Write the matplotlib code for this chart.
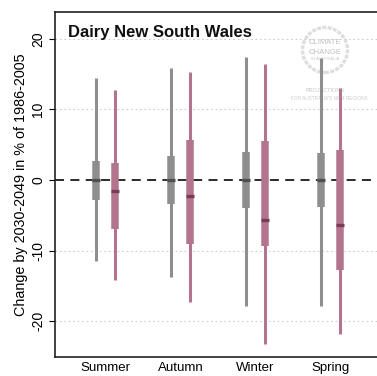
import numpy as np
import matplotlib
matplotlib.use("Agg")
import matplotlib.pyplot as plt
from matplotlib.patches import Circle

plt.rcParams['font.family'] = ['Liberation Sans', 'DejaVu Sans']

seasons = ["Summer", "Autumn", "Winter", "Spring"]

# grey series (first of each pair): whisker low, box low, median, box high, whisker high
gray_lo = [-11.5, -13.7, -17.9, -17.8]
gray_q1 = [-2.8, -3.4, -3.9, -3.8]
gray_med = [0.0, 0.0, 0.0, 0.0]
gray_q3 = [2.7, 3.4, 4.0, 3.9]
gray_hi = [14.5, 15.9, 17.4, 17.3]

# pink series (second of each pair)
pink_lo = [-14.2, -17.2, -23.2, -21.8]
pink_q1 = [-7.0, -9.0, -9.4, -12.7]
pink_med = [-1.5, -2.2, -5.6, -6.4]
pink_q3 = [2.4, 5.7, 5.6, 4.2]
pink_hi = [12.7, 15.3, 16.5, 13.0]

yticks = [-20, -10, 0, 10, 20]

gray_col = "#8e8e8e"
gray_dark = "#4f4f4f"
pink_col = "#b2758d"
pink_dark = "#7b3a58"

fig = plt.figure(figsize=(3.77, 3.76), dpi=100)
ax = fig.add_axes([55 / 377, 19 / 376, 335 / 377, 345 / 376])
ax.patch.set_visible(False)

x = np.arange(1, len(seasons) + 1)
off = 0.127

# faint logo in the top right corner
ax.add_artist(Circle((3.25, 3.26), 0.225, transform=fig.dpi_scale_trans,
                     fill=False, ec="#dedede", lw=2.4, ls=(0, (1.2, 0.4)), zorder=0.5))
txt_kw = dict(transform=fig.dpi_scale_trans, ha="center", va="center", zorder=0.5)
ax.text(3.25, 3.33, "CLIMATE", fontsize=5.6, color="#c0c0c0", **txt_kw)
ax.text(3.25, 3.23, "CHANGE", fontsize=5.6, color="#c0c0c0", **txt_kw)
ax.text(3.25, 3.165, "IN AUSTRALIA", fontsize=3.0, color="#c8c8c8", **txt_kw)
ax.text(3.25, 2.855, "PROJECTIONS", fontsize=4.0, color="#c4c4c4", **txt_kw)
ax.text(3.29, 2.775, "FOR AUSTRALIA'S NRM REGIONS", fontsize=3.4, color="#cccccc", **txt_kw)

for yv in [-20, -10, 10, 20]:
    ax.axhline(yv, color="#cccccc", lw=0.8, ls=(0, (1.5, 2.5)), zorder=1)
ax.axhline(0, color="#1a1a1a", lw=1.3, ls=(0, (5, 3.5)), zorder=2)

series = [
    (x - off, gray_lo, gray_q1, gray_med, gray_q3, gray_hi, gray_col, gray_dark),
    (x + off, pink_lo, pink_q1, pink_med, pink_q3, pink_hi, pink_col, pink_dark),
]
for xs, lo, q1, med, q3, hi, col, dark in series:
    ax.vlines(xs, lo, hi, color=col, lw=2.2, capstyle="butt", zorder=3)
    ax.vlines(xs, q1, q3, color=col, lw=5.4, capstyle="butt", zorder=4)
    ax.hlines(med, xs - 0.05, xs + 0.05, color=dark, lw=2.4, zorder=5)

ax.set_xlim(0.327, 4.793)
ax.set_ylim(-25.06, 23.8)
ax.set_xticks(x)
ax.set_xticklabels(seasons, fontsize=9.5)
ax.tick_params(axis="x", length=0, pad=3.5)
ax.set_yticks(yticks)
ax.set_yticklabels([str(v) for v in yticks], fontsize=10, rotation=90, va="center")
ax.tick_params(axis="y", length=4, width=0.8, pad=3)
ax.set_ylabel("Change by 2030-2049 in % of 1986-2005", fontsize=10.4, labelpad=2)

for side in ["left", "bottom", "top"]:
    ax.spines[side].set_linewidth(1.2)
    ax.spines[side].set_color("#222222")
ax.spines["right"].set_visible(False)

ax.text(68 / 377, 1 - 32 / 376, "Dairy New South Wales", transform=fig.transFigure,
        fontsize=12, fontweight="bold", ha="left", va="center", color="#111111")

fig.savefig("out.png", dpi=100)
